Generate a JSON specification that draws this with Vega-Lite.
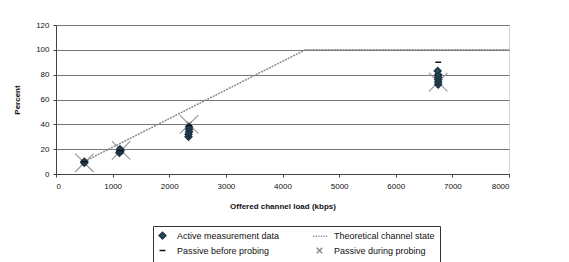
{
  "$schema": "https://vega.github.io/schema/vega-lite/v6.json",
  "width": 453,
  "height": 149,
  "autosize": {"type": "none"},
  "padding": {"left": 56, "top": 25, "right": 60, "bottom": 88},
  "background": "white",
  "config": {
    "font": "Liberation Sans",
    "view": {"stroke": "#aaaaaa", "strokeDash": [1, 1], "strokeWidth": 1},
    "axis": {"labelFont": "Liberation Sans", "titleFont": "Liberation Sans", "labelFontSize": 8, "titleFontSize": 8, "labelColor": "#111", "titleColor": "#111", "domainColor": "#444", "tickColor": "#444", "tickSize": 3},
    "legend": {"orient": "none", "legendX": 97, "legendY": 201, "columns": 2, "direction": "horizontal", "strokeColor": "#333", "padding": 5, "labelFont": "Liberation Sans", "labelFontSize": 9, "labelColor": "#111", "rowPadding": 2, "columnPadding": 30, "symbolStrokeWidth": 1.5, "labelLimit": 250, "labelOffset": 10}
  },
  "datasets": {
    "theory": [
      {"x": 500, "y": 10},
      {"x": 4400, "y": 100},
      {"x": 8000, "y": 100}
    ],
    "points": [
      {"series": "Passive during probing", "x": 500, "y": 9},
      {"series": "Passive during probing", "x": 1150, "y": 19},
      {"series": "Passive during probing", "x": 2350, "y": 40},
      {"series": "Passive during probing", "x": 6750, "y": 74},
      {"series": "Active measurement data", "x": 500, "y": 9},
      {"series": "Active measurement data", "x": 500, "y": 10},
      {"series": "Active measurement data", "x": 1120, "y": 17},
      {"series": "Active measurement data", "x": 1130, "y": 18},
      {"series": "Active measurement data", "x": 1140, "y": 19},
      {"series": "Active measurement data", "x": 1130, "y": 20},
      {"series": "Active measurement data", "x": 2340, "y": 30},
      {"series": "Active measurement data", "x": 2340, "y": 32},
      {"series": "Active measurement data", "x": 2350, "y": 34},
      {"series": "Active measurement data", "x": 2350, "y": 36},
      {"series": "Active measurement data", "x": 2350, "y": 38},
      {"series": "Active measurement data", "x": 6750, "y": 72},
      {"series": "Active measurement data", "x": 6750, "y": 74},
      {"series": "Active measurement data", "x": 6750, "y": 76},
      {"series": "Active measurement data", "x": 6750, "y": 78},
      {"series": "Active measurement data", "x": 6750, "y": 80},
      {"series": "Active measurement data", "x": 6740, "y": 83},
      {"series": "Passive before probing", "x": 500, "y": 10},
      {"series": "Passive before probing", "x": 1130, "y": 19},
      {"series": "Passive before probing", "x": 2350, "y": 39},
      {"series": "Passive before probing", "x": 6750, "y": 90}
    ]
  },
  "encoding": {
    "x": {"field": "x", "type": "quantitative", "scale": {"domain": [0, 8000]}, "axis": {"values": [0, 1000, 2000, 3000, 4000, 5000, 6000, 7000, 8000], "format": "d", "grid": false, "title": "Offered channel load (kbps)", "titlePadding": 12, "labelPadding": 5}},
    "y": {"field": "y", "type": "quantitative", "scale": {"domain": [0, 120]}, "axis": {"values": [0, 20, 40, 60, 80, 100, 120], "labelOverlap": false, "grid": true, "gridColor": "#777", "gridWidth": 1, "title": "Percent", "titlePadding": 14, "labelPadding": 4}}
  },
  "layer": [
    {
      "data": {"name": "theory"},
      "mark": {"type": "line", "color": "#8a8a8a", "strokeWidth": 1.5, "strokeDash": [2, 1]}
    },
    {
      "data": {"name": "points"},
      "transform": [{"filter": "datum.series === 'Passive during probing'"}],
      "mark": {"type": "point", "shape": "M-1,-1L1,1M1,-1L-1,1", "size": 340, "stroke": "#9a9a9a", "strokeWidth": 1.2, "opacity": 1, "filled": false}
    },
    {
      "data": {"name": "points"},
      "mark": {"type": "point", "opacity": 1, "strokeWidth": 1.5},
      "encoding": {
        "shape": {"field": "series", "type": "nominal", "scale": {"domain": ["Active measurement data", "Theoretical channel state", "Passive before probing", "Passive during probing"], "range": ["diamond", "M-2,0L-1.6,0M-1.2,0L-0.8,0M-0.4,0L0,0M0.4,0L0.8,0M1.2,0L1.6,0M2,0L2.4,0", "M-1,0L1,0", "M-1,-1L1,1M1,-1L-1,1"]}, "legend": {"title": null}},
        "stroke": {"field": "series", "type": "nominal", "scale": {"domain": ["Active measurement data", "Theoretical channel state", "Passive before probing", "Passive during probing"], "range": ["#1d3444", "#8a8a8a", "#111111", "#8a8a8a"]}, "legend": {"title": null}},
        "fill": {"field": "series", "type": "nominal", "scale": {"domain": ["Active measurement data", "Theoretical channel state", "Passive before probing", "Passive during probing"], "range": ["#2a4a5a", "transparent", "transparent", "transparent"]}, "legend": {"title": null}},
        "size": {"field": "series", "type": "nominal", "scale": {"domain": ["Active measurement data", "Theoretical channel state", "Passive before probing", "Passive during probing"], "range": [45, 30, 64, 30]}, "legend": {"title": null}}
      }
    }
  ]
}
